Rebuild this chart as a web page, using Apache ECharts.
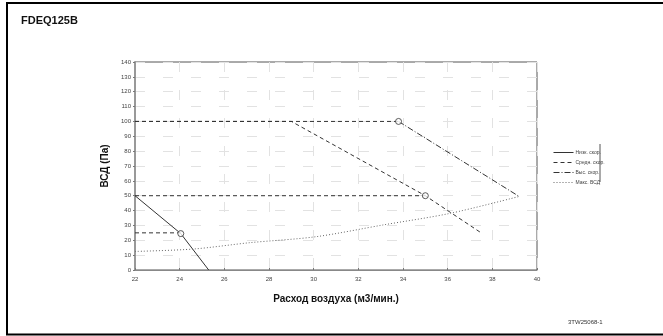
<!DOCTYPE html>
<html>
<head>
<meta charset="utf-8">
<script src="https://cdn.jsdelivr.net/npm/echarts@6/dist/echarts.min.js"></script>
<style>
  html, body { margin: 0; padding: 0; background: #fff; }
  #chart { width: 663px; height: 336px; }
</style>
</head>
<body>
<div id="chart"></div>
<script>
// данные
const seriesNames = ['Низк. скор.', 'Средн. скор.', 'Выс. скор.', 'Макс. ВСД'];
const lowSpeed = [[22, 50], [24.05, 24.5], [25.3, 0]];
const midSpeed = [[22, 100], [29, 100], [35, 50], [37.55, 24.5]];
const highSpeed = [[33.8, 100], [39.2, 49.5]];
const maxEsp = [[22, 12.5], [24.6, 14.1], [27.15, 18.4], [30.1, 22.4], [33.1, 30.3], [36.1, 38.1], [39.2, 49.5]];
// горизонтальные линии номинальных точек
const rated100 = [[22, 100], [33.8, 100]];
const rated50 = [[22, 50], [35, 50]];
const rated25 = [[22, 25], [24.05, 25]];
const ratedPoints = [[33.8, 100], [35, 50], [24.05, 24.5]];

const ink = '#333';
const font = 'Liberation Sans, Arial, sans-serif';

const chart = echarts.init(document.getElementById('chart'));

const dashed = [4, 3];
const dashDot = [6, 2, 1, 2];

function refLine(data) {
  return {
    type: 'line', data: data, symbol: 'none', silent: true,
    lineStyle: { color: ink, width: 1, type: dashed }, z: 1
  };
}

chart.setOption({
  animation: false,
  textStyle: { fontFamily: font },
  grid: { left: 135, top: 62, right: 126, bottom: 66, show: true, borderColor: '#555', borderWidth: 1 },
  title: {
    text: 'FDEQ125B', left: 16, top: 10,
    textStyle: { fontSize: 11, fontWeight: 'bold', color: '#111', fontFamily: font }
  },
  legend: {
    orient: 'vertical', left: 548, top: 145,
    itemWidth: 20, itemHeight: 4, itemGap: 5,
    data: seriesNames,
    itemStyle: { opacity: 0 },
    lineStyle: { width: 1 },
    textStyle: { fontSize: 5, color: '#444', padding: [0, 0, 0, -3] }
  },
  xAxis: {
    type: 'value', min: 22, max: 40, interval: 2,
    name: 'Расход воздуха (м3/мин.)', nameLocation: 'middle', nameGap: 24,
    nameTextStyle: { fontSize: 10, fontWeight: 'bold', color: '#111', fontFamily: font },
    axisLine: { lineStyle: { color: '#888', width: 1 } },
    axisTick: { length: 2, inside: true, lineStyle: { color: '#777' } },
    axisLabel: { fontSize: 6, color: '#444', margin: 6 },
    splitLine: { show: true, lineStyle: { color: '#e2e2e2', type: [10, 18] } }
  },
  yAxis: {
    type: 'value', min: 0, max: 140, interval: 10,
    name: 'ВСД (Па)', nameLocation: 'middle', nameGap: 19, nameRotate: 90,
    nameTextStyle: { fontSize: 10, fontWeight: 'bold', color: '#111', fontFamily: font },
    axisLine: { lineStyle: { color: '#999', width: 2 } },
    axisTick: { show: true, length: 2, lineStyle: { color: '#777' } },
    axisLabel: { fontSize: 6, color: '#444', margin: 4 },
    splitLine: { show: true, lineStyle: { color: '#e2e2e2', type: [10, 18] } }
  },
  series: [
    {
      name: seriesNames[0], type: 'line', data: lowSpeed, symbol: 'none',
      lineStyle: { color: ink, width: 1, type: 'solid' }, itemStyle: { color: ink }, z: 3
    },
    {
      name: seriesNames[1], type: 'line', data: midSpeed, symbol: 'none',
      lineStyle: { color: ink, width: 1, type: dashed }, itemStyle: { color: ink }, z: 3
    },
    {
      name: seriesNames[2], type: 'line', data: highSpeed, symbol: 'none',
      lineStyle: { color: ink, width: 1, type: dashDot }, itemStyle: { color: ink }, z: 3
    },
    {
      name: seriesNames[3], type: 'line', data: maxEsp, symbol: 'none', smooth: 0.3,
      lineStyle: { color: '#666', width: 1, type: [1, 2] }, itemStyle: { color: '#666' }, z: 3
    },
    refLine(rated100),
    refLine(rated50),
    refLine(rated25),
    {
      type: 'scatter', data: ratedPoints, symbol: 'circle', symbolSize: 6, silent: true,
      itemStyle: { color: '#fff', borderColor: ink, borderWidth: 1 }, z: 5
    }
  ],
  graphic: [
    { type: 'line', shape: { x1: 7, y1: 3, x2: 663, y2: 3 }, style: { stroke: '#000', lineWidth: 2 } },
    { type: 'line', shape: { x1: 7, y1: 2, x2: 7, y2: 335 }, style: { stroke: '#000', lineWidth: 2 } },
    { type: 'line', shape: { x1: 6, y1: 334.5, x2: 663, y2: 334.5 }, style: { stroke: '#000', lineWidth: 2 } },
    { type: 'line', shape: { x1: 600, y1: 144, x2: 600, y2: 182 }, style: { stroke: '#555', lineWidth: 1 } },
    {
      type: 'text', left: 568, top: 319,
      style: { text: '3TW25068-1', fontSize: 6, fill: '#333', fontFamily: font }
    }
  ]
});
</script>
</body>
</html>
